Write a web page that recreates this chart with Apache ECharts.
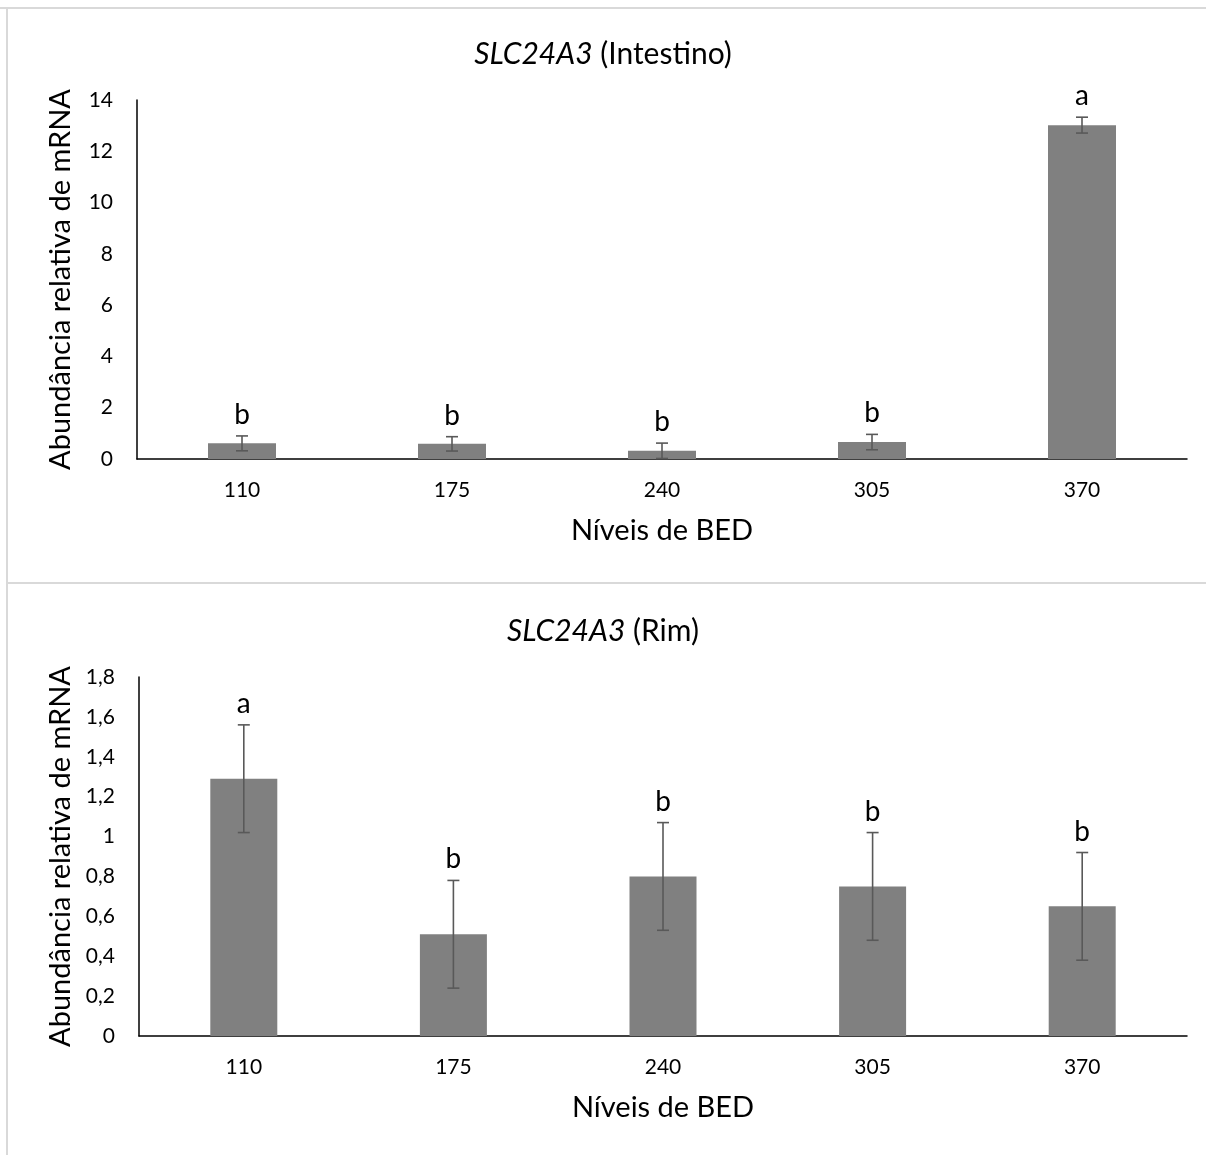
<!DOCTYPE html>
<html>
<head>
<meta charset="utf-8">
<script src="https://cdn.jsdelivr.net/npm/echarts@6/dist/echarts.min.js"></script>
<style>
html,body{margin:0;padding:0;background:#fff;}
#c{width:1206px;height:1155px;}
</style>
</head>
<body>
<div id="c"></div>
<script>
const categories = ['110', '175', '240', '305', '370'];
const intestinoMean = [0.61, 0.59, 0.32, 0.66, 13.02];
const intestinoErr = [0.29, 0.28, 0.30, 0.30, 0.31];
const intestinoLetters = ['b', 'b', 'b', 'b', 'a'];
const rimMean = [1.29, 0.51, 0.80, 0.75, 0.65];
const rimErr = [0.27, 0.27, 0.27, 0.27, 0.27];
const rimLetters = ['a', 'b', 'b', 'b', 'b'];
const intestinoTicks = [0, 2, 4, 6, 8, 10, 12, 14];
const rimTicks = ['0', '0,2', '0,4', '0,6', '0,8', '1', '1,2', '1,4', '1,6', '1,8'];

const FONT = 'Lato, "Open Sans", sans-serif';
const chart = echarts.init(document.getElementById('c'), null, {renderer: 'canvas'});

function errRender(letters) {
  return function (params, api) {
    const x = api.value(0), m = api.value(1), e = api.value(2);
    const top = api.coord([x, m + e]);
    const bot = api.coord([x, m - e]);
    const cap = 6;
    const ls = {stroke: '#595959', lineWidth: 1.6};
    return {
      type: 'group',
      children: [
        {type: 'line', shape: {x1: top[0], y1: top[1], x2: bot[0], y2: bot[1]}, style: ls},
        {type: 'line', shape: {x1: top[0] - cap, y1: top[1], x2: top[0] + cap, y2: top[1]}, style: ls},
        {type: 'line', shape: {x1: bot[0] - cap, y1: bot[1], x2: bot[0] + cap, y2: bot[1]}, style: ls},
        {type: 'text', style: {text: letters[params.dataIndex], x: top[0], y: top[1] - 7,
          align: 'center', verticalAlign: 'bottom', fontSize: 28, fontFamily: FONT, fill: '#000'}}
      ]
    };
  };
}

const axisLabelStyle = {color: '#000', fontSize: 21, fontFamily: FONT};
const nameStyle = {color: '#000', fontSize: 29, fontFamily: FONT};
const titleStyle = {color: '#000', fontSize: 30, fontWeight: 'normal', fontFamily: FONT,
  rich: {i: {fontStyle: 'italic', fontSize: 30, fontFamily: FONT, color: '#000'}}};

const option = {
  backgroundColor: '#fff',
  animation: false,
  title: [
    {text: '{i|SLC24A3} (Intestino)', left: 'center', top: 34, textStyle: titleStyle},
    {text: '{i|SLC24A3} (Rim)', left: 'center', top: 611, textStyle: titleStyle}
  ],
  graphic: [
    {type: 'line', shape: {x1: 0, y1: 8, x2: 1206, y2: 8}, style: {stroke: '#d9d9d9', lineWidth: 2}},
    {type: 'line', shape: {x1: 7, y1: 8, x2: 7, y2: 1155}, style: {stroke: '#d9d9d9', lineWidth: 2}},
    {type: 'line', shape: {x1: 7, y1: 583, x2: 1206, y2: 583}, style: {stroke: '#d9d9d9', lineWidth: 2}}
  ],
  grid: [
    {left: 137, right: 19, top: 100, height: 359},
    {left: 139, right: 19, top: 677, height: 359}
  ],
  xAxis: [
    {type: 'category', gridIndex: 0, data: categories,
      axisLine: {lineStyle: {color: '#000', width: 1.5}}, axisTick: {show: false},
      axisLabel: Object.assign({margin: 21}, axisLabelStyle),
      name: 'Níveis de BED', nameLocation: 'middle', nameGap: 57, nameTextStyle: nameStyle},
    {type: 'category', gridIndex: 1, data: categories,
      axisLine: {lineStyle: {color: '#000', width: 1.5}}, axisTick: {show: false},
      axisLabel: Object.assign({margin: 21}, axisLabelStyle),
      name: 'Níveis de BED', nameLocation: 'middle', nameGap: 57, nameTextStyle: nameStyle}
  ],
  yAxis: [
    {type: 'value', gridIndex: 0, min: 0, max: 14, interval: 2,
      axisLine: {show: true, lineStyle: {color: '#000', width: 1.5}}, axisTick: {show: false},
      splitLine: {show: false},
      axisLabel: Object.assign({margin: 24, formatter: v => String(intestinoTicks[Math.round(v / 2)])}, axisLabelStyle),
      name: 'Abundância relativa de mRNA', nameLocation: 'middle', nameGap: 62, nameTextStyle: nameStyle},
    {type: 'value', gridIndex: 1, min: 0, max: 1.8, interval: 0.2,
      axisLine: {show: true, lineStyle: {color: '#000', width: 1.5}}, axisTick: {show: false},
      splitLine: {show: false},
      axisLabel: Object.assign({margin: 24, formatter: v => rimTicks[Math.round(v * 5)]}, axisLabelStyle),
      name: 'Abundância relativa de mRNA', nameLocation: 'middle', nameGap: 64, nameTextStyle: nameStyle}
  ],
  series: [
    {type: 'bar', xAxisIndex: 0, yAxisIndex: 0, data: intestinoMean, barWidth: 68,
      itemStyle: {color: '#808080'}},
    {type: 'custom', xAxisIndex: 0, yAxisIndex: 0, z: 5,
      data: intestinoMean.map((m, i) => [i, m, intestinoErr[i]]),
      encode: {x: 0, y: 1}, renderItem: errRender(intestinoLetters)},
    {type: 'bar', xAxisIndex: 1, yAxisIndex: 1, data: rimMean, barWidth: 67,
      itemStyle: {color: '#808080'}},
    {type: 'custom', xAxisIndex: 1, yAxisIndex: 1, z: 5,
      data: rimMean.map((m, i) => [i, m, rimErr[i]]),
      encode: {x: 0, y: 1}, renderItem: errRender(rimLetters)}
  ]
};
chart.setOption(option);
</script>
</body>
</html>
